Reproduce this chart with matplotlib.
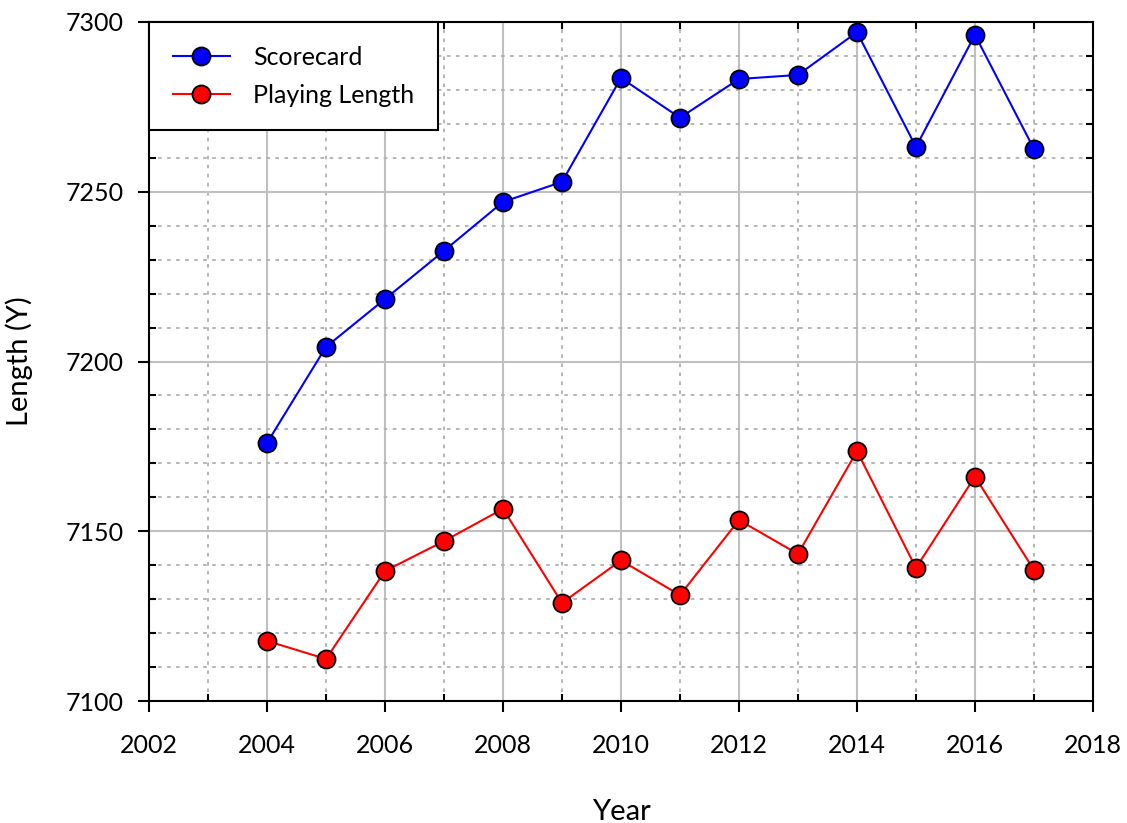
import matplotlib
matplotlib.use('Agg')
import matplotlib.pyplot as plt
from matplotlib.ticker import MultipleLocator

plt.rcParams['font.family'] = ['Lato', 'DejaVu Sans']

years = [2004, 2005, 2006, 2007, 2008, 2009, 2010, 2011, 2012, 2013, 2014, 2015, 2016, 2017]
scorecard = [7176, 7204.3, 7218.4, 7232.6, 7247, 7252.9, 7283.5, 7271.8, 7283.2, 7284.4, 7297, 7263.2, 7296.2, 7262.6]
playing = [7117.7, 7112.4, 7138.3, 7147.1, 7156.6, 7128.9, 7141.4, 7131.2, 7153.3, 7143.3, 7173.6, 7139.2, 7166.1, 7138.6]

fig = plt.figure(figsize=(11.27, 8.23), dpi=100)
ax = fig.add_axes([0.1322, 0.1482, 0.8376, 0.8251])

ax.plot(years, scorecard, '-o', color='blue', lw=1.5, ms=13, mfc='blue', mec='black', mew=1.3,
        label='Scorecard', zorder=5)
ax.plot(years, playing, '-o', color='red', lw=1.5, ms=13, mfc='red', mec='black', mew=1.3,
        label='Playing Length', zorder=5)

ax.set_xlim(2002, 2018)
ax.set_ylim(7100, 7300)
ax.xaxis.set_major_locator(MultipleLocator(2))
ax.xaxis.set_minor_locator(MultipleLocator(1))
ax.yaxis.set_major_locator(MultipleLocator(50))
ax.yaxis.set_minor_locator(MultipleLocator(10))

ax.grid(which='major', color='#c0c0c0', lw=1.5, ls='-')
ax.grid(which='minor', color='#b0b0b0', lw=1.3, ls=(0, (2, 3)))
ax.set_axisbelow(True)

ax.tick_params(which='major', direction='out', length=8, width=1.5, labelsize=18, pad=10,
               top=False, right=False)
ax.tick_params(axis='x', which='major', pad=16)
ax.tick_params(which='minor', direction='in', length=5, width=1.5, top=True, right=True)
for s in ax.spines.values():
    s.set_linewidth(1.5)

ax.set_xlabel('Year', fontsize=21, labelpad=30)
ax.set_ylabel('Length (Y)', fontsize=21, labelpad=24)

leg = ax.legend(loc='upper left', fontsize=18, frameon=True, fancybox=False, framealpha=1,
                edgecolor='black', borderaxespad=0, borderpad=0.95, handlelength=2.3,
                labelspacing=0.6, handletextpad=0.9)
leg.get_frame().set_linewidth(1.5)

fig.savefig('out.png', dpi=100)
